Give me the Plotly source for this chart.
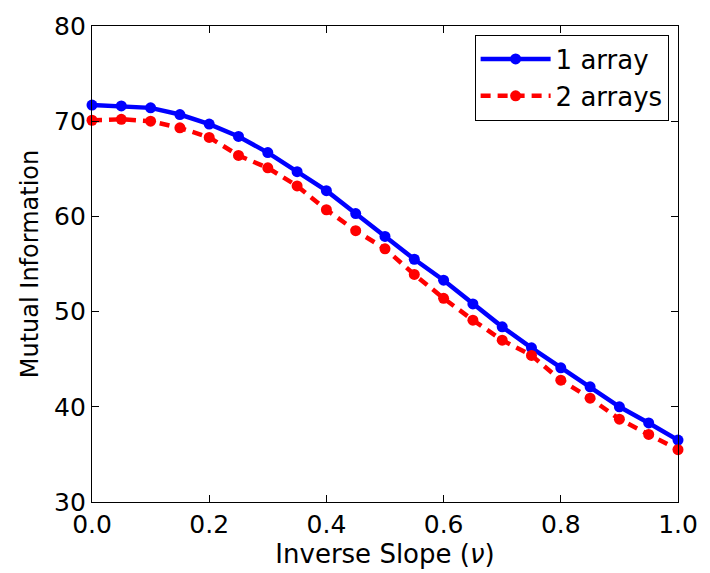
import plotly.graph_objects as go

nu = [0.0, 0.05, 0.1, 0.15, 0.2, 0.25, 0.3, 0.35, 0.4, 0.45, 0.5,
      0.55, 0.6, 0.65, 0.7, 0.75, 0.8, 0.85, 0.9, 0.95, 1.0]
one_array = [71.7, 71.6, 71.4, 70.7, 69.7, 68.4, 66.7, 64.7, 62.7, 60.3, 57.9,
             55.5, 53.3, 50.8, 48.4, 46.2, 44.1, 42.1, 40.0, 38.3, 36.5]
two_arrays = [70.1, 70.2, 70.0, 69.3, 68.3, 66.4, 65.1, 63.2, 60.7, 58.5, 56.6,
              53.9, 51.4, 49.1, 47.0, 45.4, 42.8, 40.9, 38.7, 37.1, 35.5]
x_ticks = [0.0, 0.2, 0.4, 0.6, 0.8, 1.0]
y_ticks = [30, 40, 50, 60, 70, 80]

fig = go.Figure()
fig.add_trace(go.Scatter(x=nu, y=one_array, mode="lines+markers", name="1 array",
                         line=dict(color="#0000ff", width=4.5),
                         marker=dict(color="#0000ff", size=11), cliponaxis=False))
fig.add_trace(go.Scatter(x=nu, y=two_arrays, mode="lines+markers", name="2 arrays",
                         line=dict(color="#ff0000", width=4.5, dash="10px,7px"),
                         marker=dict(color="#ff0000", size=11), cliponaxis=False))

font = "DejaVu Sans"
axis_common = dict(showgrid=False, zeroline=False, showline=True, linecolor="black",
                   linewidth=1.3, mirror="allticks", ticks="inside", ticklen=7,
                   tickcolor="black", tickwidth=1,
                   tickfont=dict(family=font, size=25, color="black"))
fig.update_layout(
    width=710, height=573,
    margin=dict(l=92, r=23, t=19, b=71),
    paper_bgcolor="white", plot_bgcolor="white",
    xaxis=dict(range=[0, 1], tickvals=x_ticks, ticktext=[f"{v:.1f}" for v in x_ticks],
               title=dict(text="Inverse Slope (<i>ν</i>)", font=dict(family=font, size=26, color="black"),
                          standoff=4),
               **axis_common),
    yaxis=dict(range=[30, 80], tickvals=y_ticks,
               title=dict(text="Mutual Information", font=dict(family=font, size=24, color="black"),
                          standoff=8),
               **axis_common),
    legend=dict(x=0.984, y=0.982, xanchor="right", yanchor="top",
                bordercolor="black", borderwidth=1, bgcolor="white",
                font=dict(family=font, size=26, color="black"),
                tracegroupgap=0, itemwidth=70),
    showlegend=True,
)
fig.write_html("out.html")
